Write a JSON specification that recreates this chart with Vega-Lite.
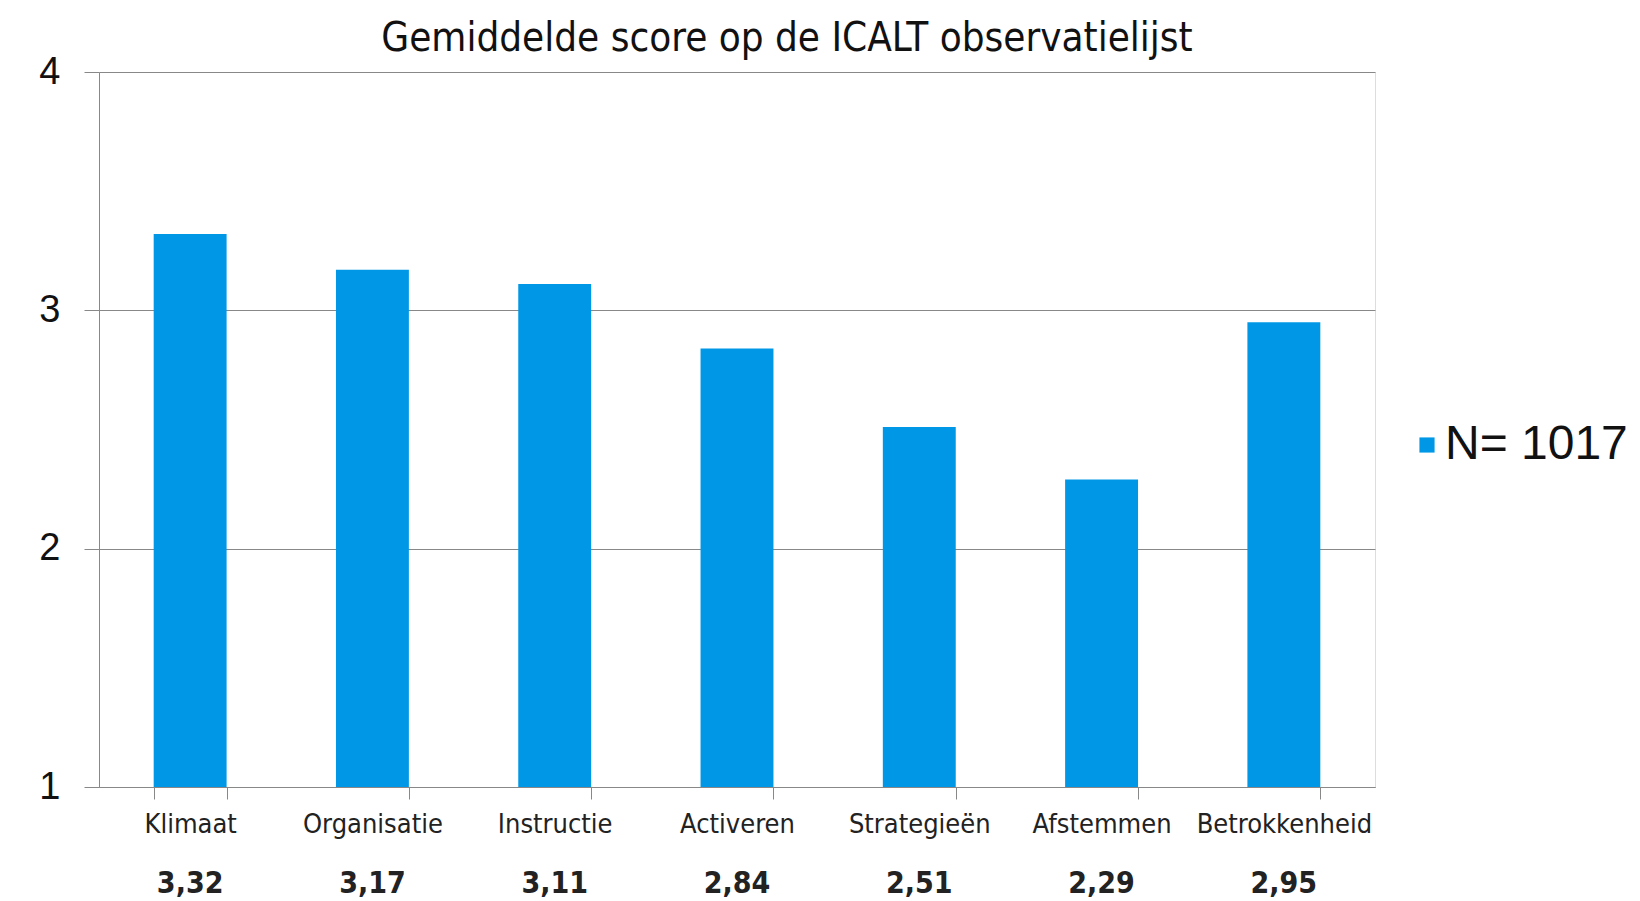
{
  "$schema": "https://vega.github.io/schema/vega-lite/v6.json",
  "autosize": {"type": "none"},
  "width": 1276,
  "height": 715,
  "padding": {"left": 99, "top": 72, "right": 265, "bottom": 114},
  "background": "white",
  "title": {
    "text": "Gemiddelde score op de ICALT observatielijst",
    "font": "DejaVu Sans Condensed",
    "fontSize": 40,
    "fontWeight": "normal",
    "color": "#111111",
    "anchor": "middle",
    "dx": 50,
    "offset": -6
  },
  "data": {
    "values": [
      {"categorie": "Klimaat", "score": 3.32, "label": "3,32", "reeks": "N= 1017"},
      {"categorie": "Organisatie", "score": 3.17, "label": "3,17", "reeks": "N= 1017"},
      {"categorie": "Instructie", "score": 3.11, "label": "3,11", "reeks": "N= 1017"},
      {"categorie": "Activeren", "score": 2.84, "label": "2,84", "reeks": "N= 1017"},
      {"categorie": "Strategieën", "score": 2.51, "label": "2,51", "reeks": "N= 1017"},
      {"categorie": "Afstemmen", "score": 2.29, "label": "2,29", "reeks": "N= 1017"},
      {"categorie": "Betrokkenheid", "score": 2.95, "label": "2,95", "reeks": "N= 1017"}
    ]
  },
  "encoding": {
    "x": {
      "field": "categorie",
      "type": "nominal",
      "sort": null,
      "scale": {"paddingInner": 0.6, "paddingOuter": 0.3},
      "axis": {
        "title": null,
        "labelAngle": 0,
        "labelFont": "DejaVu Sans Condensed",
        "labelFontSize": 27,
        "labelColor": "#222222",
        "labelPadding": 12,
        "tickBand": "extent",
        "tickSize": 12,
        "tickColor": "#888888",
        "domainColor": "#888888",
        "grid": false
      }
    }
  },
  "layer": [
    {
      "mark": {"type": "bar", "color": "#0098E6"},
      "encoding": {
        "y": {
          "field": "score",
          "type": "quantitative",
          "scale": {"domain": [1, 4], "zero": false, "nice": false},
          "axis": {
            "title": null,
            "values": [1, 2, 3, 4],
            "format": "d",
            "labelFont": "Liberation Sans",
            "labelFontSize": 38,
            "labelColor": "#111111",
            "labelPadding": 24,
            "tickSize": 15,
            "tickColor": "#888888",
            "domainColor": "#888888",
            "gridColor": "#888888",
            "gridWidth": 1
          }
        },
        "y2": {"datum": 1},
        "color": {
          "field": "reeks",
          "type": "nominal",
          "scale": {"range": ["#0098E6"]},
          "legend": {
            "title": null,
            "orient": "none",
            "legendX": 1304,
            "legendY": 349,
            "symbolType": "square",
            "symbolSize": 230,
            "symbolStrokeWidth": 0,
            "labelFont": "Liberation Sans",
            "labelFontSize": 48,
            "labelLimit": 500,
            "labelColor": "#111111",
            "labelOffset": -6
          }
        }
      }
    },
    {
      "mark": {"type": "text", "font": "DejaVu Sans Condensed", "fontWeight": "bold", "fontSize": 30, "color": "#222222", "dy": 97, "baseline": "middle"},
      "encoding": {
        "y": {"datum": 1},
        "text": {"field": "label"}
      }
    }
  ]
}
